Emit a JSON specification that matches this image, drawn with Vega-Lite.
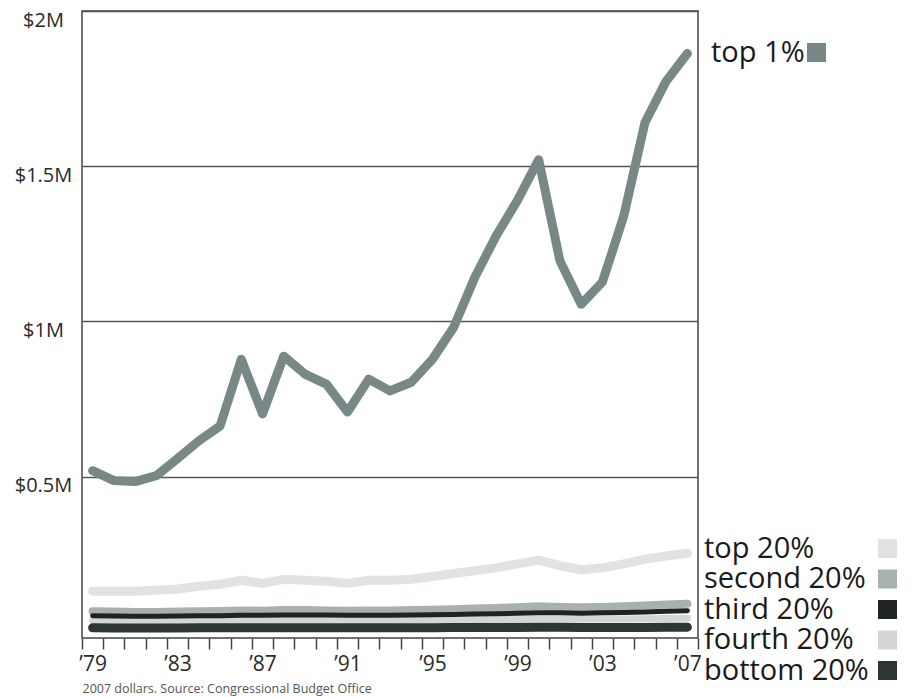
{
  "$schema": "https://vega.github.io/schema/vega-lite/v6.json",
  "width": 616,
  "height": 627,
  "autosize": {"type": "none"},
  "padding": {"left": 82, "top": 11, "right": 216, "bottom": 59},
  "background": "white",
  "data": {"values": [
    {"year":1979,"series":"top 1%","income":519000},{"year":1980,"series":"top 1%","income":487000},{"year":1981,"series":"top 1%","income":484000},{"year":1982,"series":"top 1%","income":503000},{"year":1983,"series":"top 1%","income":558000},{"year":1984,"series":"top 1%","income":615000},{"year":1985,"series":"top 1%","income":663000},{"year":1986,"series":"top 1%","income":878000},{"year":1987,"series":"top 1%","income":702000},{"year":1988,"series":"top 1%","income":888000},{"year":1989,"series":"top 1%","income":830000},{"year":1990,"series":"top 1%","income":798000},{"year":1991,"series":"top 1%","income":708000},{"year":1992,"series":"top 1%","income":814000},{"year":1993,"series":"top 1%","income":776000},{"year":1994,"series":"top 1%","income":804000},{"year":1995,"series":"top 1%","income":878000},{"year":1996,"series":"top 1%","income":981000},{"year":1997,"series":"top 1%","income":1143000},{"year":1998,"series":"top 1%","income":1276000},{"year":1999,"series":"top 1%","income":1390000},{"year":2000,"series":"top 1%","income":1521000},{"year":2001,"series":"top 1%","income":1195000},{"year":2002,"series":"top 1%","income":1055000},{"year":2003,"series":"top 1%","income":1127000},{"year":2004,"series":"top 1%","income":1338000},{"year":2005,"series":"top 1%","income":1640000},{"year":2006,"series":"top 1%","income":1774000},{"year":2007,"series":"top 1%","income":1863000},
    {"year":1979,"series":"top 20%","income":131000},{"year":1980,"series":"top 20%","income":131000},{"year":1981,"series":"top 20%","income":131000},{"year":1982,"series":"top 20%","income":134000},{"year":1983,"series":"top 20%","income":138000},{"year":1984,"series":"top 20%","income":147000},{"year":1985,"series":"top 20%","income":153000},{"year":1986,"series":"top 20%","income":166000},{"year":1987,"series":"top 20%","income":156000},{"year":1988,"series":"top 20%","income":169000},{"year":1989,"series":"top 20%","income":166000},{"year":1990,"series":"top 20%","income":163000},{"year":1991,"series":"top 20%","income":156000},{"year":1992,"series":"top 20%","income":166000},{"year":1993,"series":"top 20%","income":166000},{"year":1994,"series":"top 20%","income":169000},{"year":1995,"series":"top 20%","income":178000},{"year":1996,"series":"top 20%","income":188000},{"year":1997,"series":"top 20%","income":197000},{"year":1998,"series":"top 20%","income":206000},{"year":1999,"series":"top 20%","income":219000},{"year":2000,"series":"top 20%","income":231000},{"year":2001,"series":"top 20%","income":213000},{"year":2002,"series":"top 20%","income":200000},{"year":2003,"series":"top 20%","income":206000},{"year":2004,"series":"top 20%","income":219000},{"year":2005,"series":"top 20%","income":234000},{"year":2006,"series":"top 20%","income":244000},{"year":2007,"series":"top 20%","income":253000},
    {"year":1979,"series":"second 20%","income":66000},{"year":1980,"series":"second 20%","income":65000},{"year":1981,"series":"second 20%","income":64000},{"year":1982,"series":"second 20%","income":64000},{"year":1983,"series":"second 20%","income":65000},{"year":1984,"series":"second 20%","income":66000},{"year":1985,"series":"second 20%","income":67000},{"year":1986,"series":"second 20%","income":69000},{"year":1987,"series":"second 20%","income":68000},{"year":1988,"series":"second 20%","income":70000},{"year":1989,"series":"second 20%","income":70000},{"year":1990,"series":"second 20%","income":69000},{"year":1991,"series":"second 20%","income":68000},{"year":1992,"series":"second 20%","income":69000},{"year":1993,"series":"second 20%","income":69000},{"year":1994,"series":"second 20%","income":70000},{"year":1995,"series":"second 20%","income":71000},{"year":1996,"series":"second 20%","income":73000},{"year":1997,"series":"second 20%","income":75000},{"year":1998,"series":"second 20%","income":77000},{"year":1999,"series":"second 20%","income":79000},{"year":2000,"series":"second 20%","income":82000},{"year":2001,"series":"second 20%","income":80000},{"year":2002,"series":"second 20%","income":79000},{"year":2003,"series":"second 20%","income":80000},{"year":2004,"series":"second 20%","income":82000},{"year":2005,"series":"second 20%","income":85000},{"year":2006,"series":"second 20%","income":88000},{"year":2007,"series":"second 20%","income":90000},
    {"year":1979,"series":"third 20%","income":52000},{"year":1980,"series":"third 20%","income":51000},{"year":1981,"series":"third 20%","income":50000},{"year":1982,"series":"third 20%","income":50000},{"year":1983,"series":"third 20%","income":51000},{"year":1984,"series":"third 20%","income":52000},{"year":1985,"series":"third 20%","income":52000},{"year":1986,"series":"third 20%","income":53000},{"year":1987,"series":"third 20%","income":53000},{"year":1988,"series":"third 20%","income":54000},{"year":1989,"series":"third 20%","income":54000},{"year":1990,"series":"third 20%","income":54000},{"year":1991,"series":"third 20%","income":53000},{"year":1992,"series":"third 20%","income":53000},{"year":1993,"series":"third 20%","income":53000},{"year":1994,"series":"third 20%","income":54000},{"year":1995,"series":"third 20%","income":55000},{"year":1996,"series":"third 20%","income":56000},{"year":1997,"series":"third 20%","income":57000},{"year":1998,"series":"third 20%","income":58000},{"year":1999,"series":"third 20%","income":60000},{"year":2000,"series":"third 20%","income":61000},{"year":2001,"series":"third 20%","income":61000},{"year":2002,"series":"third 20%","income":60000},{"year":2003,"series":"third 20%","income":61000},{"year":2004,"series":"third 20%","income":62000},{"year":2005,"series":"third 20%","income":64000},{"year":2006,"series":"third 20%","income":66000},{"year":2007,"series":"third 20%","income":68000},
    {"year":1979,"series":"fourth 20%","income":36000},{"year":1980,"series":"fourth 20%","income":35000},{"year":1981,"series":"fourth 20%","income":35000},{"year":1982,"series":"fourth 20%","income":35000},{"year":1983,"series":"fourth 20%","income":35000},{"year":1984,"series":"fourth 20%","income":36000},{"year":1985,"series":"fourth 20%","income":36000},{"year":1986,"series":"fourth 20%","income":37000},{"year":1987,"series":"fourth 20%","income":37000},{"year":1988,"series":"fourth 20%","income":37000},{"year":1989,"series":"fourth 20%","income":37000},{"year":1990,"series":"fourth 20%","income":37000},{"year":1991,"series":"fourth 20%","income":37000},{"year":1992,"series":"fourth 20%","income":37000},{"year":1993,"series":"fourth 20%","income":37000},{"year":1994,"series":"fourth 20%","income":37000},{"year":1995,"series":"fourth 20%","income":38000},{"year":1996,"series":"fourth 20%","income":38000},{"year":1997,"series":"fourth 20%","income":39000},{"year":1998,"series":"fourth 20%","income":39000},{"year":1999,"series":"fourth 20%","income":40000},{"year":2000,"series":"fourth 20%","income":41000},{"year":2001,"series":"fourth 20%","income":41000},{"year":2002,"series":"fourth 20%","income":41000},{"year":2003,"series":"fourth 20%","income":41000},{"year":2004,"series":"fourth 20%","income":41000},{"year":2005,"series":"fourth 20%","income":42000},{"year":2006,"series":"fourth 20%","income":43000},{"year":2007,"series":"fourth 20%","income":44000},
    {"year":1979,"series":"bottom 20%","income":13000},{"year":1980,"series":"bottom 20%","income":12000},{"year":1981,"series":"bottom 20%","income":12000},{"year":1982,"series":"bottom 20%","income":12000},{"year":1983,"series":"bottom 20%","income":12000},{"year":1984,"series":"bottom 20%","income":13000},{"year":1985,"series":"bottom 20%","income":13000},{"year":1986,"series":"bottom 20%","income":13000},{"year":1987,"series":"bottom 20%","income":13000},{"year":1988,"series":"bottom 20%","income":13000},{"year":1989,"series":"bottom 20%","income":13000},{"year":1990,"series":"bottom 20%","income":13000},{"year":1991,"series":"bottom 20%","income":13000},{"year":1992,"series":"bottom 20%","income":13000},{"year":1993,"series":"bottom 20%","income":13000},{"year":1994,"series":"bottom 20%","income":13000},{"year":1995,"series":"bottom 20%","income":13000},{"year":1996,"series":"bottom 20%","income":14000},{"year":1997,"series":"bottom 20%","income":14000},{"year":1998,"series":"bottom 20%","income":14000},{"year":1999,"series":"bottom 20%","income":14000},{"year":2000,"series":"bottom 20%","income":15000},{"year":2001,"series":"bottom 20%","income":15000},{"year":2002,"series":"bottom 20%","income":14000},{"year":2003,"series":"bottom 20%","income":14000},{"year":2004,"series":"bottom 20%","income":14000},{"year":2005,"series":"bottom 20%","income":14000},{"year":2006,"series":"bottom 20%","income":15000},{"year":2007,"series":"bottom 20%","income":15000}
  ]},
  "encoding": {
    "x": {
      "field": "year", "type": "quantitative",
      "scale": {"domain": [1978.5, 2007.5], "nice": false, "zero": false},
      "axis": {
        "values": [1978.5,1979.5,1980.5,1981.5,1982.5,1983.5,1984.5,1985.5,1986.5,1987.5,1988.5,1989.5,1990.5,1991.5,1992.5,1993.5,1994.5,1995.5,1996.5,1997.5,1998.5,1999.5,2000.5,2001.5,2002.5,2003.5,2004.5,2005.5,2006.5,2007.5],
        "labelExpr": "(datum.value - 1978.5) % 4 == 0 ? '\u2019' + substring(toString(datum.value + 0.5), 2, 4) : ''",
        "labelOffset": 10.6,
        "labelFlush": false,
        "labelOverlap": false,
        "labelFontSize": 21,
        "labelColor": "#2a2a2a",
        "labelPadding": 4,
        "grid": false,
        "domain": false,
        "ticks": true,
        "tickSize": 11,
        "tickWidth": 1.5,
        "tickColor": "#444",
        "title": "2007 dollars. Source: Congressional Budget Office",
        "titleFontSize": 12.5,
        "titleFontWeight": "normal",
        "titleColor": "#555",
        "titleAnchor": "start",
        "titleAlign": "left",
        "titlePadding": 8
      }
    },
    "y": {
      "field": "income", "type": "quantitative",
      "scale": {"domain": [-20000, 2000000], "nice": false, "zero": false},
      "axis": {
        "values": [500000, 1000000, 1500000, 2000000],
        "labelExpr": "'$' + datum.value / 1000000 + 'M'",
        "labelFontSize": 20,
        "labelColor": "#2a2a2a",
        "labelAlign": "center",
        "labelBaseline": "middle",
        "labelPadding": 39,
        "labelOffset": 9,
        "ticks": false,
        "tickSize": 0,
        "domain": false,
        "grid": true,
        "gridColor": "#555",
        "gridWidth": 1.4,
        "title": null
      }
    }
  },
  "layer": [
    {
      "encoding": {
        "color": {
          "field": "series", "type": "nominal",
          "scale": {
            "domain": ["top 20%", "second 20%", "third 20%", "fourth 20%", "bottom 20%"],
            "range": ["#e1e2e2", "#a9b1b0", "#1f2423", "#d2d6d6", "#2f3535"]
          },
          "legend": {
            "title": null, "orient": "none", "legendX": 603, "legendY": 523,
            "symbolType": "square", "symbolSize": 361, "symbolStrokeWidth": 0,
            "symbolOffset": 188, "labelFontSize": 29, "labelColor": "#1a1a1a",
            "labelOffset": -198, "labelLimit": 400, "rowPadding": 0.5, "padding": 0,
            "encode": {"symbols": {"update": {
              "fill": {"signal": "datum.value == 'top 20%' ? '#e1e2e2' : datum.value == 'second 20%' ? '#a9b1b0' : datum.value == 'third 20%' ? '#1f2423' : datum.value == 'fourth 20%' ? '#d2d6d6' : '#2f3535'"},
              "fillOpacity": {"value": 1},
              "strokeWidth": {"value": 0}
            }}}
          }
        }
      },
      "layer": [
        {"transform": [{"filter": "datum.series == 'top 20%'"}], "mark": {"type": "line", "strokeWidth": 9, "strokeCap": "round", "strokeJoin": "round"}},
        {"transform": [{"filter": "datum.series == 'second 20%'"}], "mark": {"type": "line", "strokeWidth": 8, "strokeCap": "round", "strokeJoin": "round"}},
        {"transform": [{"filter": "datum.series == 'fourth 20%'"}], "mark": {"type": "line", "strokeWidth": 7, "strokeCap": "round", "strokeJoin": "round"}},
        {"transform": [{"filter": "datum.series == 'bottom 20%'"}], "mark": {"type": "line", "strokeWidth": 9, "strokeCap": "round", "strokeJoin": "round"}},
        {"transform": [{"filter": "datum.series == 'third 20%'"}], "mark": {"type": "line", "strokeWidth": 5, "strokeCap": "round", "strokeJoin": "round"}}
      ]
    },
    {
      "transform": [{"filter": "datum.series == 'top 1%'"}],
      "mark": {"type": "line", "strokeWidth": 9, "strokeCap": "round", "strokeJoin": "round"},
      "encoding": {
        "color": {
          "field": "series", "type": "nominal",
          "scale": {"domain": ["top 1%"], "range": ["#788886"]},
          "legend": {
            "title": null, "orient": "none", "legendX": 609, "legendY": 27,
            "symbolType": "square", "symbolSize": 361, "symbolStrokeWidth": 0,
            "symbolOffset": 111, "labelFontSize": 29, "labelColor": "#1a1a1a",
            "labelOffset": -120, "labelLimit": 400, "padding": 0,
            "encode": {"symbols": {"update": {
              "fill": {"value": "#788886"},
              "fillOpacity": {"value": 1},
              "strokeWidth": {"value": 0}
            }}}
          }
        }
      }
    }
  ],
  "resolve": {"scale": {"color": "independent"}},
  "config": {
    "font": "Open Sans",
    "view": {"stroke": "#444", "strokeWidth": 1.5},
    "legend": {"labelFont": "Open Sans"},
    "axis": {"labelFont": "Open Sans", "titleFont": "Open Sans"}
  }
}
